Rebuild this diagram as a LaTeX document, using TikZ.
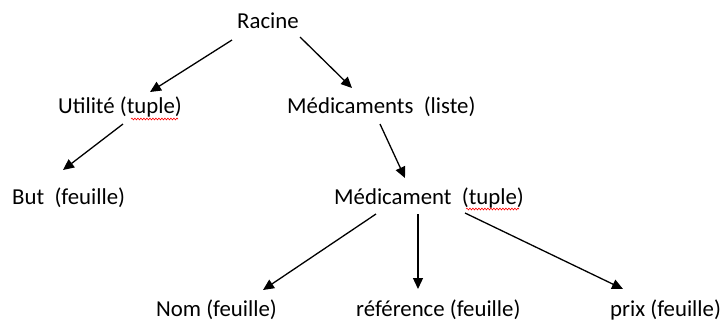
\documentclass[tikz,border=0pt]{standalone}
\usepackage{fontspec}
\setmainfont{Carlito}
\usetikzlibrary{arrows.meta,calc,decorations.pathmorphing}
\begin{document}
\begin{tikzpicture}[x=1pt,y=-1pt,
  lbl/.style={anchor=base west,inner sep=0pt,font=\fontsize{22.8}{26}\selectfont,text=black},
  arr/.style={line width=1.3pt,-{Triangle[length=11pt,width=10pt]}},
  spell/.style={red,line width=0.6pt,decorate,decoration={snake,segment length=3pt,amplitude=0.9pt}}]
\useasboundingbox (0,0) rectangle (724,322);
% tree labels
\node[lbl] (r)  at (237,28)  {Racine};
\node[lbl] (u)  at (58,113)  {Utilité (tuple)};
\node[lbl] (ms) at (287,113) {Médicaments~ (liste)};
\node[lbl] (b)  at (12,204)  {But~ (feuille)};
\node[lbl] (m)  at (334,204) {Médicament~ (tuple)};
\node[lbl] (n)  at (156,316) {Nom (feuille)};
\node[lbl] (f)  at (356,316) {référence (feuille)};
\node[lbl] (p)  at (610,316) {prix (feuille)};
% edges
\draw[arr] ($(r.base west)+(-5,12)$) -- ($(u.base west)+(92,-21)$);
\draw[arr] ($(r.base west)+(63,9)$) -- ($(ms.base west)+(65,-25)$);
\draw[arr] ($(u.base west)+(65,11)$) -- ($(b.base west)+(51,-34)$);
\draw[arr] ($(ms.base west)+(93,11)$) -- ($(m.base west)+(71,-26)$);
\draw[arr] ($(m.base west)+(42,10)$) -- ($(n.base west)+(107,-26)$);
\draw[arr] ($(m.base west)+(84,10)$) -- ($(f.base west)+(62,-27)$);
\draw[arr] ($(m.base west)+(131,9)$) -- ($(p.base west)+(13,-27)$);
% spell-check underlines
\draw[spell] ($(u.base west)+(73,6)$) -- ($(u.base west)+(120,6)$);
\draw[spell] ($(m.base west)+(132,5)$) -- ($(m.base west)+(185,5)$);
\end{tikzpicture}
\end{document}
